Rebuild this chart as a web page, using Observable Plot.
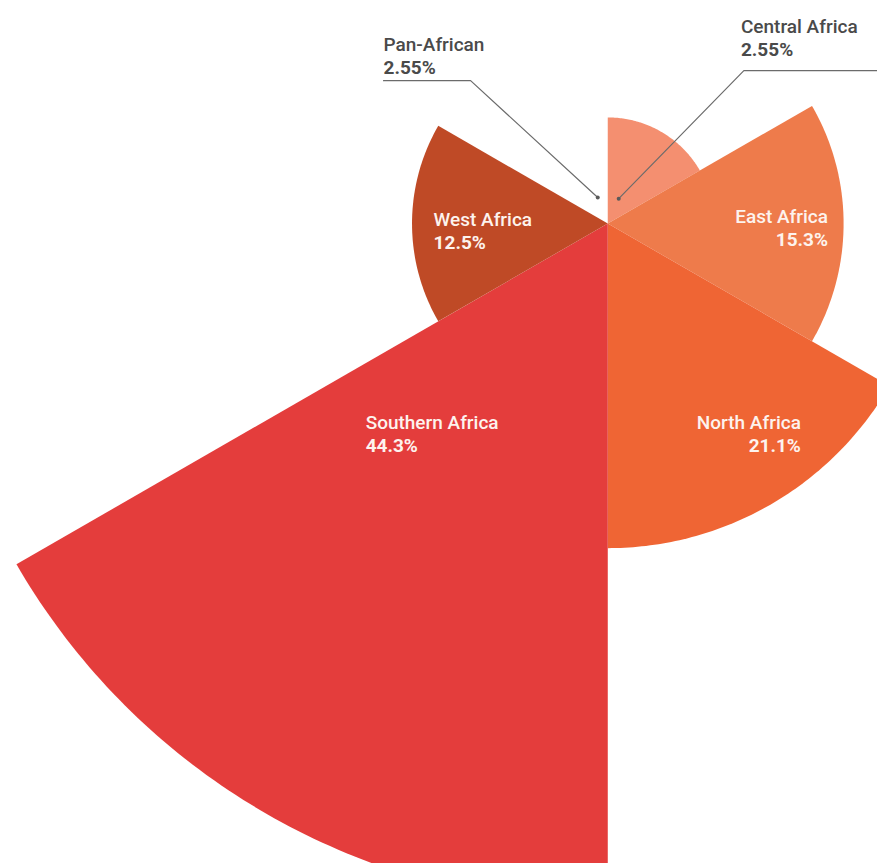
<!DOCTYPE html>
<html>
<head>
<meta charset="utf-8">
<script src="https://cdn.jsdelivr.net/npm/d3@7"></script>
<script src="https://cdn.jsdelivr.net/npm/@observablehq/plot@0.6"></script>
<style>
  html, body { margin: 0; padding: 0; background: #ffffff; }
  #chart svg { display: block; }
</style>
</head>
<body>
<div id="chart"></div>
<script>
// ---- data ----
const regions = ["Central Africa", "East Africa", "North Africa", "Southern Africa", "West Africa", "Pan-African"];
const shares = [2.55, 15.3, 21.1, 44.3, 12.5, 2.55];          // label values (%)
const drawnRadius = [6.9, 15.3, 21.1, 44.3, 12.7, 0];          // sector length as drawn in the picture (% units)
const colors = ["#f48f70", "#ee7b4b", "#ef6534", "#e43d3c", "#bf4a26", "#f2a48a"];

// ---- label layout (in chart units, centre = 0,0) ----
const labelLayout = {
  "Central Africa":  {x: 8.64,   y: 12.4,  anchor: "start", inside: false},
  "East Africa":     {x: 14.29,  y: 0.06,  anchor: "end",   inside: true},
  "North Africa":    {x: 12.53,  y: -13.38, anchor: "end",  inside: true},
  "Southern Africa": {x: -15.71, y: -13.38, anchor: "start", inside: true},
  "West Africa":     {x: -11.3,  y: -0.13, anchor: "start", inside: true},
  "Pan-African":     {x: -14.55, y: 11.23, anchor: "start", inside: false}
};
const leaders = {
  "Pan-African":    [[-14.55, 9.29], [-8.9, 9.29], [-0.65, 1.69]],
  "Central Africa": [[17.6, 9.94], [8.83, 9.94], [0.71, 1.62]]
};

// ---- build sector polygons ----
const sectorAngle = 360 / regions.length;
const steps = 80;
const sectorPts = [];
regions.forEach((name, i) => {
  const r = drawnRadius[i];
  if (r <= 0) return;
  const a0 = i * sectorAngle, a1 = (i + 1) * sectorAngle;
  sectorPts.push({region: name, x: 0, y: 0});
  for (let s = 0; s <= steps; s++) {
    const a = (a0 + (a1 - a0) * s / steps) * Math.PI / 180;
    sectorPts.push({region: name, x: r * Math.sin(a), y: r * Math.cos(a)});
  }
  sectorPts.push({region: name, x: 0, y: 0});
});

const labels = regions.map((name, i) => ({
  region: name,
  value: shares[i].toFixed(shares[i] % 1 === 0 ? 0 : (String(shares[i]).split(".")[1] || "").length) + "%",
  ...labelLayout[name]
}));

const leaderPts = Object.entries(leaders).flatMap(([name, pts]) => pts.map(([x, y]) => ({region: name, x, y})));
const leaderEnds = Object.entries(leaders).map(([name, pts]) => ({region: name, x: pts[pts.length - 1][0], y: pts[pts.length - 1][1]}));

const textMarks = labels.flatMap(d => {
  const fill = d.inside ? "#fdf3ee" : "#4a4a4a";
  return [
    Plot.text([d], {x: "x", y: "y", text: "region", textAnchor: d.anchor, lineAnchor: "bottom",
      fill, fontSize: 19, fontWeight: 500}),
    Plot.text([d], {x: "x", y: "y", text: "value", textAnchor: d.anchor, lineAnchor: "bottom",
      dy: 23, fill, fontSize: 19, fontWeight: 700})
  ];
});

const chart = Plot.plot({
  width: 877,
  height: 863,
  margin: 0,
  style: {fontFamily: "Roboto, 'Liberation Sans', sans-serif", background: "#ffffff", overflow: "hidden"},
  x: {domain: [-39.4, 17.5], axis: null},
  y: {domain: [-41.6, 14.5], axis: null},
  color: {domain: regions, range: colors},
  marks: [
    Plot.line(sectorPts, {x: "x", y: "y", z: "region", fill: "region", stroke: "none", curve: "linear", clip: true}),
    Plot.line(leaderPts, {x: "x", y: "y", z: "region", stroke: "#6b6b6b", strokeWidth: 1.2}),
    Plot.dot(leaderEnds, {x: "x", y: "y", r: 2, fill: "#5a5a5a"}),
    ...textMarks
  ]
});

document.getElementById("chart").appendChild(chart);
</script>
</body>
</html>
